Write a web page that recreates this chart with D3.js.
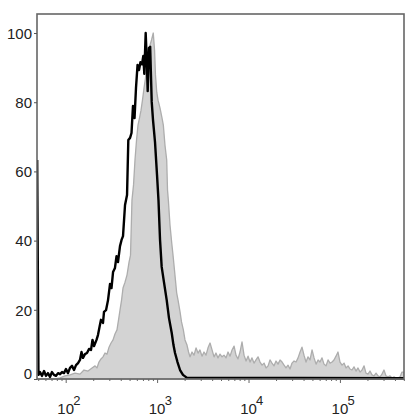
<!DOCTYPE html>
<html>
<head>
<meta charset="utf-8">
<script src="https://cdn.jsdelivr.net/npm/d3@7/dist/d3.min.js"></script>
<style>
  html, body { margin: 0; padding: 0; background: #fff; }
  svg { display: block; font-family: "Liberation Sans", Arial, sans-serif; }
</style>
</head>
<body>
<svg id="chart" width="417" height="420"></svg>
<script>
// ---- data (x in log10 fluorescence, y in % of max) ----
const blackLog = [1.688,1.702,1.719,1.741,1.763,1.784,1.806,1.828,1.850,1.872,1.894,1.916,1.938,1.960,1.981,2.003,2.025,2.047,2.069,2.091,2.113,2.135,2.156,2.173,2.189,2.211,2.233,2.255,2.277,2.293,2.310,2.337,2.353,2.370,2.386,2.408,2.419,2.441,2.463,2.485,2.501,2.518,2.539,2.556,2.572,2.594,2.611,2.627,2.649,2.671,2.685,2.704,2.720,2.736,2.753,2.769,2.786,2.802,2.818,2.835,2.849,2.860,2.875,2.886,2.897,2.911,2.924,2.941,2.955,2.977,2.999,3.015,3.032,3.050,3.075,3.105,3.130,3.160,3.179,3.196,3.223,3.251,3.283,3.324,5.701];
const blackPct = [63.3,1.2,2.0,0.9,2.3,0.9,1.7,0.6,2.0,1.2,0.9,1.7,1.4,2.0,1.7,2.9,1.7,3.2,3.8,2.6,4.0,4.6,5.5,7.8,6.1,7.2,7.5,8.7,8.4,11.3,9.5,11.3,12.7,15.0,17.1,16.2,19.4,19.9,22.8,27.5,26.3,30.9,32.1,35.5,33.8,38.4,40.2,41.3,50.3,53.2,69.1,69.7,71.1,78.9,75.4,84.1,90.8,89.3,91.6,91.0,93.4,88.2,100,92.8,83.2,95.7,96.0,80.1,74.9,68.5,59.0,51.7,40.2,32.4,28.0,22.8,17.6,13.3,9.8,7.5,4.9,2.6,1.2,0.4,0.2];

const grayLog = [1.686,1.883,1.938,1.992,2.047,2.102,2.156,2.200,2.244,2.288,2.321,2.342,2.364,2.386,2.408,2.430,2.452,2.474,2.496,2.518,2.539,2.561,2.578,2.594,2.611,2.627,2.649,2.671,2.693,2.709,2.725,2.742,2.758,2.775,2.791,2.807,2.824,2.840,2.857,2.873,2.889,2.906,2.922,2.939,2.958,2.972,2.982,2.996,3.010,3.032,3.054,3.068,3.086,3.105,3.114,3.123,3.141,3.160,3.174,3.190,3.214,3.229,3.251,3.267,3.287,3.305,3.327,3.344,3.360,
  3.382,3.404,3.426,3.448,3.469,3.491,3.513,3.535,3.557,3.579,3.601,3.623,3.644,3.666,3.688,3.710,3.732,3.754,3.776,3.798,3.820,3.842,3.863,3.885,3.907,3.929,3.951,3.973,3.995,4.017,4.038,4.060,4.082,4.104,4.126,4.148,4.170,4.192,4.214,4.235,4.257,4.279,4.301,4.323,4.345,4.367,4.389,4.410,4.432,4.454,4.476,4.498,4.520,4.542,4.564,4.585,4.607,4.629,4.651,4.673,4.695,4.717,4.739,4.761,4.782,4.804,4.826,4.848,4.870,4.892,4.914,4.935,4.957,4.979,5.001,5.023,5.045,5.067,5.089,5.110,5.132,5.154,5.176,5.198,5.220,5.242,5.264,5.285,5.307,5.329,5.351,5.373,5.395,5.417,5.439,5.460,5.482,5.504,5.526,5.548,5.570,5.592,5.614,5.635,5.657,5.679,5.701];
const grayPct = [0,0,0.3,0.9,1.2,1.7,1.4,2.6,2.3,3.2,3.8,3.2,4.9,5.8,6.4,7.5,7.2,9.2,10.4,11.3,13.0,14.2,17.1,19.9,22.8,26.3,28.0,30.1,33.8,35.8,51.7,56.1,63.3,69.1,73.4,75.4,77.7,80.6,84.1,87.0,91.6,94.5,96.5,98.0,100,95.1,87.9,82.9,80.6,78.3,75.4,73.4,67.6,63.3,54.6,51.7,44.5,39.3,35.8,31.5,24.9,22.8,19.4,16.5,14.2,11.3,9.8,7.8,6.4,
  7.8,6.9,9.0,7.5,8.4,6.6,7.8,6.9,9.0,10.4,8.4,6.4,7.5,6.1,7.2,6.4,6.9,6.1,7.8,6.6,8.4,9.5,6.9,5.8,7.8,10.7,6.9,5.2,6.6,4.9,6.1,4.6,5.5,6.4,4.9,4.0,4.6,3.2,3.8,5.5,4.6,3.8,5.2,4.3,5.5,4.9,4.0,3.2,4.0,2.9,4.6,5.2,4.9,6.1,7.8,9.2,6.9,4.9,6.4,5.5,8.4,6.1,4.3,5.5,4.9,6.1,4.3,3.8,5.5,4.6,4.9,5.5,6.6,7.8,4.9,4.0,4.6,3.2,3.8,2.9,2.6,3.5,2.3,3.2,2.0,2.6,3.8,1.7,1.4,2.3,1.2,0.9,1.7,0.9,0.6,1.4,2.6,0.9,0.6,0.9,0.3,0.6,0.3,0.3,0.6,2.0,2.0];

const yTicks = [0, 20, 40, 60, 80, 100];
const xDecades = [2, 3, 4, 5];

// ---- layout ----
const svg = d3.select("#chart");
const L = 37, R = 404, T = 14, B = 379;

const x = d3.scaleLog()
  .domain([Math.pow(10, 1.686), Math.pow(10, 5.701)])
  .range([L, R]);
const y = d3.scaleLinear().domain([0, 105.5]).range([B, T]);

svg.append("defs").append("clipPath").attr("id", "clip")
  .append("rect").attr("x", L).attr("y", T - 2).attr("width", R - L).attr("height", B - T + 4);

const gray = grayLog.map((lg, i) => ({ v: Math.pow(10, lg), p: grayPct[i] }));
const black = blackLog.map((lg, i) => ({ v: Math.pow(10, lg), p: blackPct[i] }));

const plot = svg.append("g").attr("clip-path", "url(#clip)");

plot.append("path")
  .datum(gray)
  .attr("d", d3.area().x(d => x(d.v)).y0(y(0)).y1(d => y(d.p)))
  .attr("fill", "#d3d3d3")
  .attr("stroke", "#adadad")
  .attr("stroke-width", 1.3)
  .attr("stroke-linejoin", "round");

// frame
svg.append("rect")
  .attr("x", L).attr("y", T).attr("width", R - L).attr("height", B - T)
  .attr("fill", "none").attr("stroke", "#666").attr("stroke-width", 1.6);

plot.append("path")
  .datum(black)
  .attr("d", d3.line().x(d => x(d.v)).y(d => y(d.p)))
  .attr("fill", "none")
  .attr("stroke", "#000")
  .attr("stroke-width", 2.4)
  .attr("stroke-linejoin", "round");

// y axis
const yAxis = svg.append("g")
  .attr("transform", `translate(${L},0)`)
  .call(d3.axisLeft(y).tickValues(yTicks).tickSize(3).tickPadding(2).tickFormat(d3.format("d")));
yAxis.select(".domain").remove();
yAxis.selectAll(".tick line").attr("stroke", "#555");
yAxis.selectAll(".tick text")
  .attr("fill", "#222")
  .style("font-size", "15px")
  .attr("dy", d => d === 0 ? "-0.05em" : "0.35em");

// x axis ticks (major + minor, log decades)
const xTickVals = [1, 2, 3, 4, 5]
  .flatMap(e => [1, 2, 3, 4, 5, 6, 7, 8, 9].map(m => m * Math.pow(10, e)))
  .filter(v => v >= x.domain()[0] && v <= x.domain()[1]);
const xAxis = svg.append("g")
  .attr("transform", `translate(0,${B})`)
  .call(d3.axisBottom(x).tickValues(xTickVals).tickSize(2).tickFormat(""));
xAxis.select(".domain").remove();
xAxis.selectAll(".tick line").attr("stroke", "#666")
  .attr("y2", d => Math.abs(Math.log10(d) - Math.round(Math.log10(d))) < 1e-6 ? 4 : 2);

// x labels: 10 with superscript exponent
const xl = svg.append("g");
xDecades.forEach(e => {
  const px = x(Math.pow(10, e));
  xl.append("text").attr("x", px).attr("y", 414)
    .attr("text-anchor", "middle").attr("fill", "#222")
    .style("font-size", "15px").text("10");
  xl.append("text").attr("x", px + 7.6).attr("y", 405)
    .attr("text-anchor", "start").attr("fill", "#222")
    .style("font-size", "13px").text(String(e));
});
</script>
</body>
</html>
